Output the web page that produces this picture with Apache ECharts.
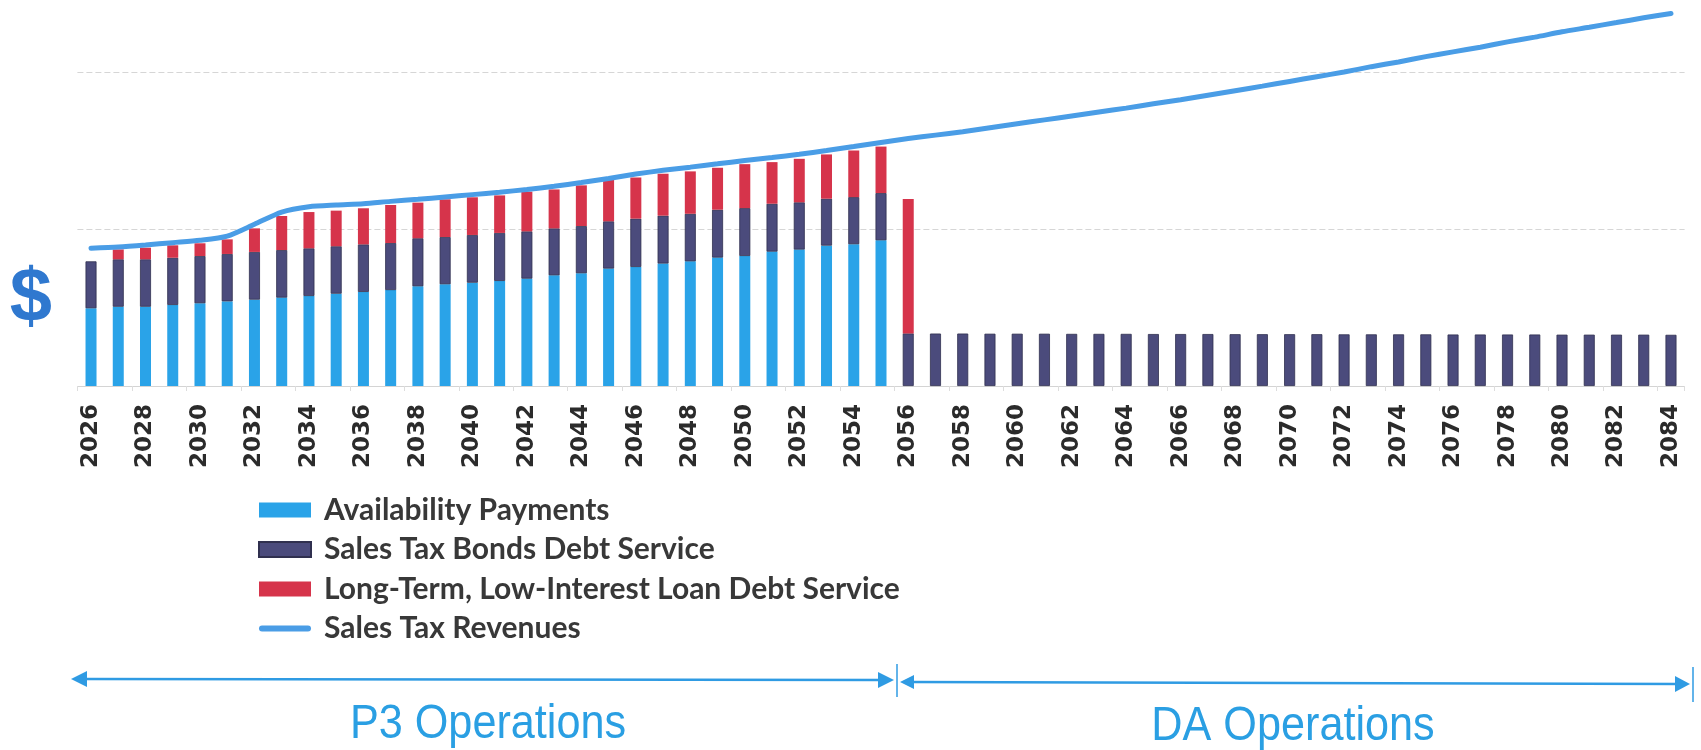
<!DOCTYPE html>
<html>
<head>
<meta charset="utf-8">
<script src="https://cdn.jsdelivr.net/npm/echarts@6/dist/echarts.min.js"></script>
<style>
html,body{margin:0;padding:0;background:#ffffff;}
#chart{width:1701px;height:750px;}
</style>
</head>
<body>
<div id="chart"></div>
<script>
// ---- data ----
const years = ['2026','2027','2028','2029','2030','2031','2032','2033','2034','2035',
  '2036','2037','2038','2039','2040','2041','2042','2043','2044','2045',
  '2046','2047','2048','2049','2050','2051','2052','2053','2054','2055',
  '2056','2057','2058','2059','2060','2061','2062','2063','2064','2065',
  '2066','2067','2068','2069','2070','2071','2072','2073','2074','2075',
  '2076','2077','2078','2079','2080','2081','2082','2083','2084'];

const availabilityPayments = [49.5, 50.5, 50.5, 51.6, 52.7, 53.9, 55.0, 56.3, 57.3, 58.8,
  59.9, 61.1, 63.5, 64.8, 65.8, 66.9, 68.4, 70.5, 71.8, 74.8,
  75.8, 78.0, 79.4, 81.8, 82.8, 85.6, 86.9, 89.4, 90.3, 92.8,
  null, null, null, null, null, null, null, null, null, null,
  null, null, null, null, null, null, null, null, null, null,
  null, null, null, null, null, null, null, null, null];

const salesTaxBondsDebtService = [29.9, 30.2, 30.2, 30.1, 30.1, 30.2, 30.4, 30.3, 30.4, 30.2,
  30.3, 30.0, 30.6, 30.1, 30.4, 30.6, 30.1, 29.9, 30.1, 30.1,
  30.8, 30.5, 30.3, 30.5, 30.5, 30.5, 30.1, 29.9, 30.0, 30.1,
  33.5, 33.4, 33.4, 33.3, 33.3, 33.3, 33.2, 33.2, 33.2, 33.1,
  33.1, 33.1, 33.0, 33.0, 33.0, 33.0, 32.9, 32.9, 32.9, 32.9,
  32.8, 32.8, 32.8, 32.8, 32.7, 32.7, 32.7, 32.7, 32.6];

const loanDebtService = [null, 6.3, 7.4, 7.9, 8.1, 9.3, 15.0, 21.7, 23.1, 22.7,
  23.0, 24.2, 22.7, 24.0, 24.0, 23.9, 25.3, 24.8, 25.9, 26.7,
  26.2, 26.7, 27.0, 26.7, 28.0, 26.5, 27.7, 28.2, 29.7, 29.6,
  85.6, null, null, null, null, null, null, null, null, null,
  null, null, null, null, null, null, null, null, null, null,
  null, null, null, null, null, null, null, null, null];

const salesTaxRevenues = [87.7, 88.5, 89.8, 91.3, 92.8, 95.5, 103.0, 110.8, 114.2, 115.3,
  116.1, 117.6, 118.9, 120.4, 121.9, 123.4, 125.2, 127.2, 129.6, 132.2,
  135.0, 137.4, 139.4, 141.5, 143.6, 145.5, 147.6, 150.0, 152.5, 155.1,
  157.6, 159.8, 162.0, 164.5, 167.0, 169.5, 172.0, 174.5, 177.0, 179.8,
  182.3, 185.2, 188.1, 191.0, 194.0, 197.0, 200.0, 203.4, 206.4, 209.8,
  212.8, 215.8, 219.2, 222.2, 225.6, 228.5, 231.5, 234.5, 237.3];

const gridValues = [100, 200];

const seriesNames = ['Availability Payments', 'Sales Tax Bonds Debt Service',
  'Long-Term, Low-Interest Loan Debt Service', 'Sales Tax Revenues'];
const phaseLabels = ['P3 Operations', 'DA Operations'];

// ---- chart ----
const chart = echarts.init(document.getElementById('chart'), null, {renderer: 'canvas'});
const arrowColor = '#2f9be3';
const lineColor = '#4a9de6';
const option = {
  backgroundColor: '#ffffff',
  animation: false,
  grid: {left: 77.4, right: 16.4, top: 0, bottom: 364, containLabel: false},
  legend: {
    orient: 'vertical',
    left: 258,
    top: 495,
    padding: 0,
    itemWidth: 52,
    itemHeight: 15,
    itemGap: 9.5,
    symbolKeepAspect: true,
    textStyle: {fontFamily: 'Lato', fontWeight: 'bold', fontSize: 30, color: '#383838',
      lineHeight: 30, padding: [0, 0, 0, 8]},
    data: [
      {name: seriesNames[0], icon: 'rect'},
      {name: seriesNames[1], icon: 'rect'},
      {name: seriesNames[2], icon: 'rect'},
      {name: seriesNames[3],
        icon: 'path://M3,0 L49,0 A3,3,0,0,1,49,6 L3,6 A3,3,0,0,1,3,0 Z',
        itemStyle: {color: lineColor, borderWidth: 0}}
    ]
  },
  xAxis: {
    type: 'category',
    data: years,
    boundaryGap: true,
    axisLine: {show: true, lineStyle: {color: '#d4d4d4', width: 1}},
    axisTick: {show: true, length: 5, lineStyle: {color: '#dddddd'}},
    axisLabel: {interval: 1, rotate: 90, margin: 18, fontFamily: 'DejaVu Sans',
      fontWeight: 'bold', fontSize: 23, color: '#2b2b2b'}
  },
  yAxis: {
    type: 'value',
    min: 0, max: 245.86,
    axisLine: {show: false}, axisTick: {show: false}, axisLabel: {show: false},
    splitLine: {show: false}
  },
  series: [
    {name: seriesNames[0], type: 'bar', stack: 'total', barWidth: 11,
      itemStyle: {color: '#2aa3e8'}, data: availabilityPayments,
      markLine: {silent: true, z: 0, symbol: ['none', 'none'], label: {show: false},
        lineStyle: {color: '#d6d6d6', width: 1, type: [6, 3]},
        data: gridValues.map(v => ({yAxis: v}))}},
    {name: seriesNames[1], type: 'bar', stack: 'total', barWidth: 11,
      itemStyle: {color: '#4b4b7c', borderColor: '#30304f', borderWidth: 0.8}, data: salesTaxBondsDebtService},
    {name: seriesNames[2], type: 'bar', stack: 'total', barWidth: 11,
      itemStyle: {color: '#d6344b'}, data: loanDebtService},
    {name: seriesNames[3], type: 'line', symbol: 'none', smooth: 0.25, z: 5,
      lineStyle: {color: lineColor, width: 5, cap: 'round'}, itemStyle: {color: lineColor},
      data: salesTaxRevenues}
  ],
  graphic: [
    {type: 'text', x: 31, y: 300, style: {text: '$', font: 'bold 76px "Liberation Sans", Arial, sans-serif',
      fill: '#2f78cf', textAlign: 'center', textVerticalAlign: 'middle'}},
    // P3 arrow
    {type: 'line', shape: {x1: 82, y1: 679, x2: 884, y2: 680}, style: {stroke: arrowColor, lineWidth: 2.5}},
    {type: 'polygon', shape: {points: [[71, 679], [87, 671], [87, 687]]}, style: {fill: arrowColor}},
    {type: 'polygon', shape: {points: [[894, 680], [878, 672], [878, 688]]}, style: {fill: arrowColor}},
    {type: 'line', shape: {x1: 897, y1: 664, x2: 897, y2: 697}, style: {stroke: arrowColor, lineWidth: 1.5}},
    // DA arrow
    {type: 'line', shape: {x1: 908, y1: 682, x2: 1680, y2: 684}, style: {stroke: arrowColor, lineWidth: 2.5}},
    {type: 'polygon', shape: {points: [[900, 682], [914, 675], [914, 689]]}, style: {fill: arrowColor}},
    {type: 'polygon', shape: {points: [[1690, 684], [1675, 676], [1675, 692]]}, style: {fill: arrowColor}},
    {type: 'line', shape: {x1: 1693, y1: 667, x2: 1693, y2: 702}, style: {stroke: arrowColor, lineWidth: 1.5}},
    {type: 'text', x: 488, y: 725, scaleX: 0.9, style: {text: phaseLabels[0],
      font: '48px "Liberation Sans", Arial, sans-serif', fill: '#2a9fe3',
      textAlign: 'center', textVerticalAlign: 'middle'}},
    {type: 'text', x: 1293, y: 727, scaleX: 0.9, style: {text: phaseLabels[1],
      font: '48px "Liberation Sans", Arial, sans-serif', fill: '#2a9fe3',
      textAlign: 'center', textVerticalAlign: 'middle'}}
  ]
};
chart.setOption(option);
</script>
</body>
</html>
